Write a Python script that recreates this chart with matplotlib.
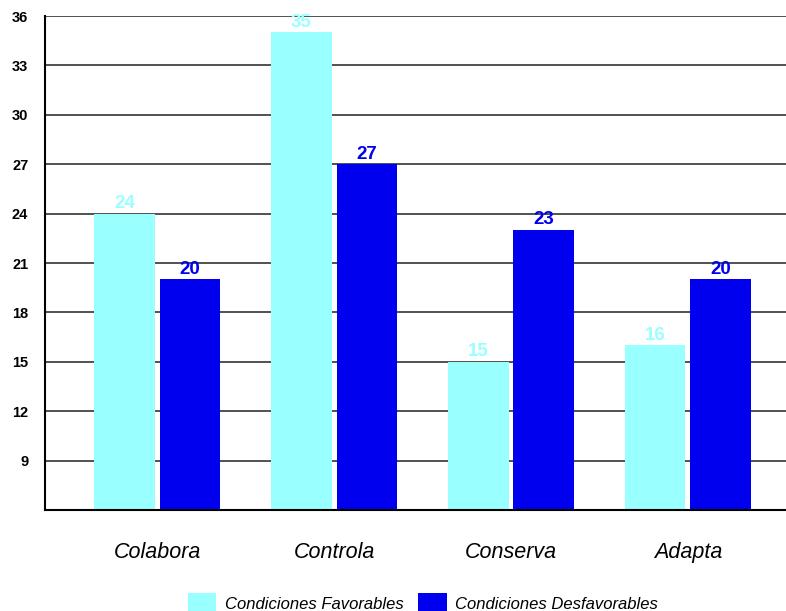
import matplotlib
matplotlib.use('Agg')
import matplotlib.pyplot as plt
import numpy as np

plt.rcParams['font.family'] = ['Liberation Sans', 'DejaVu Sans']

categorias = ['Colabora', 'Controla', 'Conserva', 'Adapta']
favorables = [24, 35, 15, 16]
desfavorables = [20, 27, 23, 20]
series = ['Condiciones Favorables', 'Condiciones Desfavorables']
yticks = [9, 12, 15, 18, 21, 24, 27, 30, 33, 36]

color_fav = '#99FFFF'
color_des = '#0000EE'

fig = plt.figure(figsize=(7.86, 6.11), dpi=100)
ax = fig.add_axes([0.0573, 0.1653, 0.9427, 0.8085])

x = np.arange(len(categorias))
ancho = 0.34
desp = 0.184

# rejilla detras de las barras
ax.set_axisbelow(True)
ax.yaxis.grid(True, color='#333333', linewidth=1.2)

b1 = ax.bar(x - desp, np.array(favorables) - 6, ancho, bottom=6, color=color_fav, label=series[0])
b2 = ax.bar(x + desp, np.array(desfavorables) - 6, ancho, bottom=6, color=color_des, label=series[1])

# valores encima de cada barra
for barras, valores, col in [(b1, favorables, color_fav), (b2, desfavorables, color_des)]:
    for b, v in zip(barras, valores):
        ax.text(b.get_x() + b.get_width() / 2, v + 0.1, str(v), ha='center', va='bottom',
                color=col, fontsize=13.5, fontweight='bold')

ax.set_ylim(6, 36)
ax.set_xlim(-0.633, 3.554)
ax.set_yticks(yticks)
ax.set_yticklabels([str(t) for t in yticks], fontsize=10.5, fontweight='bold')
ax.set_xticks(x)
ax.set_xticklabels(categorias, fontsize=15.5, fontstyle='italic')
ax.tick_params(axis='both', length=0)
ax.tick_params(axis='x', pad=23)
ax.tick_params(axis='y', pad=12)

for s in ['top', 'right']:
    ax.spines[s].set_visible(False)
ax.spines['left'].set_linewidth(1.5)
ax.spines['bottom'].set_linewidth(1.5)

leg = fig.legend(handles=[b1, b2], labels=series, loc='lower center', ncol=2,
                 bbox_to_anchor=(0.538, -0.03), frameon=False, handlelength=1.7,
                 handleheight=1.6, handletextpad=0.5, columnspacing=0.9,
                 prop={'style': 'italic', 'size': 12})

plt.savefig('out.png', dpi=100)
plt.close()
